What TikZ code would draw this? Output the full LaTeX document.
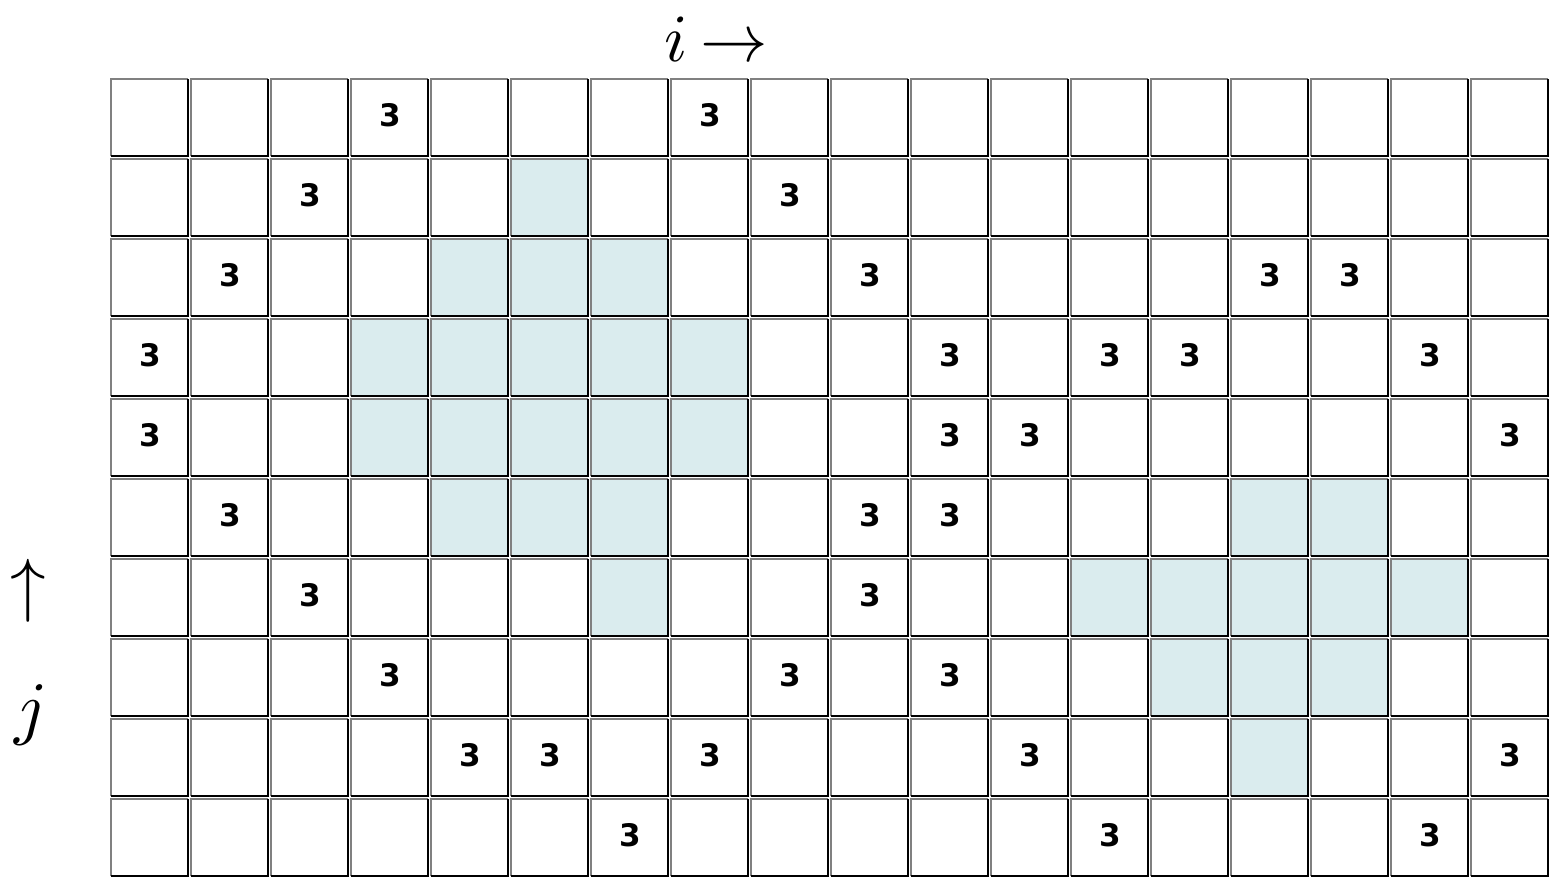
\documentclass[tikz,border=0pt]{standalone}
\usepackage{fontspec}
\newfontfamily\numfont{DejaVu Sans}
\definecolor{cellfill}{RGB}{218,236,238}
\definecolor{edgegray}{RGB}{128,128,128}
\tikzset{
  numlabel/.style={anchor=base, inner sep=0pt, font=\numfont\bfseries\fontsize{31}{31}\selectfont},
  axislabel/.style={anchor=base, inner sep=0pt, scale=7.1},
  lightedge/.style={draw=edgegray, line width=2pt},
  darkedge/.style={draw=black, line width=1.6pt}
}
\begin{document}
\begin{tikzpicture}[x=1pt,y=-1pt]
\useasboundingbox[fill=white] (0,0) rectangle (1552,876);
% shaded cells
\foreach \c/\r in {5/1, 4/2,5/2,6/2, 3/3,4/3,5/3,6/3,7/3, 3/4,4/4,5/4,6/4,7/4,
  4/5,5/5,6/5,14/5,15/5, 6/6,12/6,13/6,14/6,15/6,16/6, 13/7,14/7,15/7, 14/8}{
  \fill[cellfill] ({111+80*\c},{79+80*\r}) rectangle ({188+80*\c},{156+80*\r});
}
% cell borders
\foreach \c in {0,...,17}{
  \foreach \r in {0,...,9}{
    \draw[lightedge] ({111+80*\c},{156+80*\r}) -- ({111+80*\c},{79+80*\r}) -- ({188+80*\c},{79+80*\r});
    \draw[darkedge] ({188+80*\c},{79+80*\r}) -- ({188+80*\c},{156+80*\r}) -- ({111+80*\c},{156+80*\r});
  }
}
% numbers
\foreach \c/\r in {3/0,7/0, 2/1,8/1, 1/2,9/2,14/2,15/2, 0/3,10/3,12/3,13/3,16/3,
  0/4,10/4,11/4,17/4, 1/5,9/5,10/5, 2/6,9/6, 3/7,8/7,10/7,
  4/8,5/8,7/8,11/8,17/8, 6/9,12/9,16/9}{
  \node[numlabel] (n-\c-\r) at ({150+80*\c},{126+80*\r}) {3};
}
% axis labels
\node[axislabel, scale=0.95] (ilabel) at (716,61) {$i\mkern3.5mu{\rightarrow}$};
\node[axislabel] (uparr) at (28,608) {$\uparrow$};
\node[axislabel] (jlabel) at (31,731) {$j$};
\end{tikzpicture}
\end{document}
